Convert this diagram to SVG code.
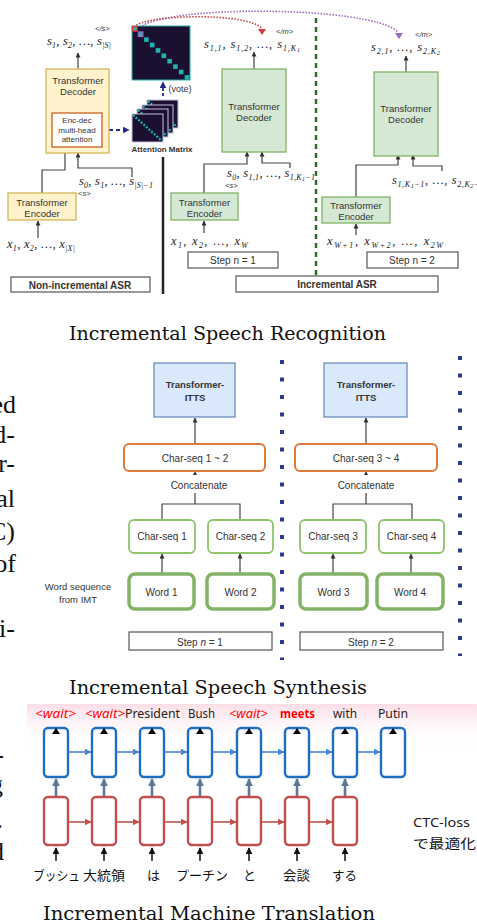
<svg xmlns="http://www.w3.org/2000/svg" width="477" height="924" viewBox="0 0 477 924">
<defs>
<style>
.t{font-family:"Liberation Sans",Arial,sans-serif;fill:#333;text-anchor:middle}
.b{font-weight:bold}
.m{font-family:"Liberation Serif","Times New Roman",serif;font-style:italic;font-size:12.5px;fill:#222}
.s{font-size:8px}
.ss{font-size:6px}
.tag{font-family:"Liberation Sans",Arial,sans-serif;font-style:italic;font-size:7.5px;fill:#333}
.cap{font-family:"DejaVu Serif","Liberation Serif",serif;font-size:18px;fill:#111}
.frag{font-family:"Liberation Serif","Times New Roman",serif;font-size:26px;fill:#111;text-anchor:end}
.yel{fill:#fff2cc;stroke:#d6b656;stroke-width:1.3}
.grn{fill:#d5e8d4;stroke:#82b366;stroke-width:1.3}
.lbl{fill:#fff;stroke:#555;stroke-width:1.2}
.ln{fill:none;stroke:#444;stroke-width:1.2}
.itts{fill:#dae8fc;stroke:#6c8ebf;stroke-width:1.3}
.cs{fill:#fff;stroke:#8cc56a;stroke-width:1.8}
.wd{fill:#fff;stroke:#82b366;stroke-width:3.5}
.or{fill:#fff;stroke:#e07a3a;stroke-width:2}
.dots{stroke:#2b3a8f;stroke-width:4;stroke-dasharray:4 13.5}
.mat{fill:#1c1030}
.tl{fill:#21b3b0}
.mt{font-family:"Noto Sans","Liberation Sans",sans-serif;font-size:12.5px;fill:#222}
.w{fill:#f00;font-style:italic}
.jp{font-family:"Noto Sans CJK JP",sans-serif;font-size:13px;fill:#111}
.bc{fill:#fff;stroke:#1f6fc0;stroke-width:2.4}
.rc{fill:#fff;stroke:#c0504d;stroke-width:2.4}
</style>
<marker id="ab" viewBox="0 0 10 10" refX="9" refY="5" markerWidth="5" markerHeight="5" orient="auto" markerUnits="userSpaceOnUse"><path d="M0,0 L10,5 L0,10 z" fill="#333"/></marker>
<marker id="an" viewBox="0 0 10 10" refX="9" refY="5" markerWidth="7" markerHeight="7" orient="auto" markerUnits="userSpaceOnUse"><path d="M0,0 L10,5 L0,10 z" fill="#2a2a8a"/></marker>
<marker id="abl" viewBox="0 0 10 10" refX="9" refY="5" markerWidth="7" markerHeight="7" orient="auto" markerUnits="userSpaceOnUse"><path d="M0,0 L10,5 L0,10 z" fill="#4a86c8"/></marker>
<marker id="ar" viewBox="0 0 10 10" refX="9" refY="5" markerWidth="7" markerHeight="7" orient="auto" markerUnits="userSpaceOnUse"><path d="M0,0 L10,5 L0,10 z" fill="#c0504d"/></marker>
<marker id="ag" viewBox="0 0 10 10" refX="9" refY="5" markerWidth="8" markerHeight="8" orient="auto" markerUnits="userSpaceOnUse"><path d="M0,0 L10,5 L0,10 z" fill="#5d7a94"/></marker>
<marker id="ak" viewBox="0 0 10 10" refX="9" refY="5" markerWidth="7" markerHeight="7" orient="auto" markerUnits="userSpaceOnUse"><path d="M0,0 L10,5 L0,10 z" fill="#111"/></marker>
<linearGradient id="pink" x1="0" y1="0" x2="0" y2="1"><stop offset="0" stop-color="#fcdde7"/><stop offset="1" stop-color="#fff" stop-opacity="0"/></linearGradient>
</defs>
<rect width="477" height="924" fill="#fff"/>

<!-- cut-off paragraph fragments -->
<g id="fragments">
<text class="frag" x="16" y="413">ed</text>
<text class="frag" x="15" y="443">d-</text>
<text class="frag" x="15" y="472">r-</text>
<text class="frag" x="15" y="507">al</text>
<text class="frag" x="15" y="540">C)</text>
<text class="frag" x="16" y="572">of</text>
<text class="frag" x="15" y="637">i-</text>
<text class="frag" x="4" y="763">-</text>
<text class="frag" x="3" y="793">g</text>
<text class="frag" x="3" y="828">.</text>
<text class="frag" x="4" y="860">d</text>
</g>

<!-- ===== ASR ===== -->
<g id="asr-connectors">
<line x1="316" y1="18" x2="316" y2="275" stroke="#2d6a2d" stroke-width="2.5" stroke-dasharray="5 4"/>
<line x1="163" y1="157" x2="163" y2="294" stroke="#222" stroke-width="2.5"/>
<path class="ln" d="M78,69 V53" marker-end="url(#ab)"/>
<path class="ln" d="M42,193 V170 H65 V147" marker-end="url(#ab)"/>
<path class="ln" d="M132,177 V168 H78 V153" marker-end="url(#ab)"/>
<path class="ln" d="M38,238 V221" marker-end="url(#ab)"/>
<path class="ln" d="M254,69 V52" marker-end="url(#ab)"/>
<path class="ln" d="M204,193 V164 H247 V152" marker-end="url(#ab)"/>
<path class="ln" d="M290,168 V163 H262 V152" marker-end="url(#ab)"/>
<path class="ln" d="M204,233 V221" marker-end="url(#ab)"/>
<path class="ln" d="M406,72 V56" marker-end="url(#ab)"/>
<path class="ln" d="M356,197 V165 H398 V155" marker-end="url(#ab)"/>
<path class="ln" d="M442,171 V166 H413 V155" marker-end="url(#ab)"/>
<path class="ln" d="M356,235 V224" marker-end="url(#ab)"/>
<path d="M102,130 H129" fill="none" stroke="#2a2a8a" stroke-width="1.8" stroke-dasharray="4 3" marker-end="url(#an)"/>
<path d="M163,96 V82" fill="none" stroke="#2a2a8a" stroke-width="1.8" stroke-dasharray="3 2" marker-end="url(#an)"/>
<path d="M140,28 C160,5 370,5 398,32" fill="none" stroke="#9b6bbf" stroke-width="1.6" stroke-dasharray="1.5 1.5"/>
<polygon points="395,33 403,33 399,39" fill="#9b6bbf"/>
<path d="M134,27 C145,14 250,12 262,29" fill="none" stroke="#d04040" stroke-width="1.6" stroke-dasharray="1.5 1.5"/>
<polygon points="258,29 266,29 262,35" fill="#d04040"/>
</g>

<g id="asr-decoder">
<rect class="yel" x="46" y="69" width="63" height="84"/>
<text class="t" x="78" y="84" font-size="9.5">Transformer</text>
<text class="t" x="78" y="95" font-size="9.5">Decoder</text>
<rect x="52" y="113" width="50" height="34" fill="#fff" stroke="#d0743c" stroke-width="1.5"/>
<text class="t" x="77" y="123" font-size="8">Enc-dec</text>
<text class="t" x="77" y="132.5" font-size="8">multi-head</text>
<text class="t" x="77" y="142" font-size="8">attention</text>
</g>
<g id="asr-encoder">
<rect class="yel" x="8" y="193" width="68" height="27"/>
<text class="t" x="42" y="205.5" font-size="9.5">Transformer</text>
<text class="t" x="42" y="216.5" font-size="9.5">Encoder</text>
</g>
<g id="asr-labels-left">
<text class="tag" x="95" y="31">&lt;/s&gt;</text>
<text class="m" x="47" y="45" textLength="64" lengthAdjust="spacing">s<tspan class="s" dy="2.5">1</tspan><tspan dy="-2.5">, s</tspan><tspan class="s" dy="2.5">2</tspan><tspan dy="-2.5">, …, s</tspan><tspan class="s" dy="2.5">|S|</tspan></text>
<text class="m" x="79" y="185" textLength="74" lengthAdjust="spacing">s<tspan class="s" dy="2.5">0</tspan><tspan dy="-2.5">, s</tspan><tspan class="s" dy="2.5">1</tspan><tspan dy="-2.5">, …, s</tspan><tspan class="s" dy="2.5">|S|−1</tspan></text>
<text class="tag" x="78" y="196" font-size="7">&lt;s&gt;</text>
<text class="m" x="7" y="248" textLength="68" lengthAdjust="spacing">x<tspan class="s" dy="2.5">1</tspan><tspan dy="-2.5">, x</tspan><tspan class="s" dy="2.5">2</tspan><tspan dy="-2.5">, …, x</tspan><tspan class="s" dy="2.5">|X|</tspan></text>
</g>
<g id="asr-nonincremental-label">
<rect class="lbl" x="11" y="277" width="139" height="15"/>
<text class="t b" x="80" y="288.5" font-size="10" fill="#222">Non-incremental ASR</text>
</g>
<g id="attention-stack">
<rect class="mat" x="147" y="100" width="31" height="28" stroke="#c8c0e0" stroke-width="1"/>
<line x1="148" y1="101" x2="177" y2="127" stroke="#21b3b0" stroke-width="2.2" stroke-dasharray="2 1.5"/>
<rect class="mat" x="142" y="105" width="31" height="28" stroke="#c8c0e0" stroke-width="1"/>
<line x1="143" y1="106" x2="172" y2="132" stroke="#21b3b0" stroke-width="2.2" stroke-dasharray="2 1.5"/>
<rect class="mat" x="137" y="109" width="31" height="28" stroke="#c8c0e0" stroke-width="1"/>
<line x1="138" y1="110" x2="167" y2="136" stroke="#21b3b0" stroke-width="2.2" stroke-dasharray="2 1.5"/>
<rect class="mat" x="132" y="114" width="31" height="28" stroke="#c8c0e0" stroke-width="1"/>
<line x1="133" y1="115" x2="162" y2="141" stroke="#21b3b0" stroke-width="2.2" stroke-dasharray="2 1.5"/>
<text class="t b" x="162" y="152" font-size="8" fill="#222">Attention Matrix</text>
</g>
<g id="attention-matrix">
<rect class="mat" x="132" y="26" width="58" height="54" stroke="#2ab0b0" stroke-width="1"/>
<rect x="132.5" y="26.5" width="4.6" height="4.6" fill="#21b3b0" stroke="#e03030" stroke-width="1.2"/>
<rect x="138.3" y="31.9" width="4.6" height="4.6" fill="#21b3b0" stroke="#9b6bbf" stroke-width="1.2"/>
<rect class="tl" x="144.1" y="37.3" width="4.6" height="4.6"/>
<rect class="tl" x="149.9" y="42.7" width="4.6" height="4.6"/>
<rect class="tl" x="155.7" y="48.1" width="4.6" height="4.6"/>
<rect class="tl" x="161.5" y="53.5" width="4.6" height="4.6"/>
<rect class="tl" x="167.3" y="58.9" width="4.6" height="4.6"/>
<rect class="tl" x="173.1" y="64.3" width="4.6" height="4.6"/>
<rect class="tl" x="178.9" y="69.7" width="4.6" height="4.6"/>
<rect class="tl" x="184.7" y="75.1" width="4.6" height="4.6"/>
<text class="t" x="180" y="92" font-size="9" fill="#222">(vote)</text>
</g>
<g id="asr-step1">
<rect class="grn" x="222" y="69" width="64" height="83"/>
<text class="t" x="254" y="110" font-size="9.5">Transformer</text>
<text class="t" x="254" y="121" font-size="9.5">Decoder</text>
<rect class="grn" x="171" y="193" width="67" height="27"/>
<text class="t" x="204.5" y="205.5" font-size="9.5">Transformer</text>
<text class="t" x="204.5" y="216.5" font-size="9.5">Encoder</text>
<text class="tag" x="276" y="34">&lt;/m&gt;</text>
<text class="m" x="204" y="48" textLength="96" lengthAdjust="spacing">s<tspan class="s" dy="2.5">1,1</tspan><tspan dy="-2.5">, s</tspan><tspan class="s" dy="2.5">1,2</tspan><tspan dy="-2.5">, …, s</tspan><tspan class="s" dy="2.5">1,K</tspan><tspan class="ss" dy="1.5">1</tspan></text>
<text class="m" x="227" y="177" textLength="88" lengthAdjust="spacing">s<tspan class="s" dy="2.5">0</tspan><tspan dy="-2.5">, s</tspan><tspan class="s" dy="2.5">1,1</tspan><tspan dy="-2.5">, …, s</tspan><tspan class="s" dy="2.5">1,K</tspan><tspan class="ss" dy="1.5">1</tspan><tspan class="s" dy="-1.5">−1</tspan></text>
<text class="tag" x="225" y="188" font-size="7">&lt;s&gt;</text>
<text class="m" x="171" y="245" textLength="77" lengthAdjust="spacing">x<tspan class="s" dy="2.5">1</tspan><tspan dy="-2.5">, x</tspan><tspan class="s" dy="2.5">2</tspan><tspan dy="-2.5">, …, x</tspan><tspan class="s" dy="2.5">W</tspan></text>
<rect class="lbl" x="188" y="252" width="90" height="16"/>
<text class="t" x="233" y="264" font-size="10">Step n = 1</text>
</g>
<g id="asr-step2">
<rect class="grn" x="374" y="72" width="64" height="84"/>
<text class="t" x="406" y="112" font-size="9.5">Transformer</text>
<text class="t" x="406" y="123" font-size="9.5">Decoder</text>
<rect class="grn" x="322" y="197" width="68" height="26"/>
<text class="t" x="356" y="209" font-size="9.5">Transformer</text>
<text class="t" x="356" y="220" font-size="9.5">Encoder</text>
<text class="tag" x="415" y="37">&lt;/m&gt;</text>
<text class="m" x="371" y="51" textLength="69" lengthAdjust="spacing">s<tspan class="s" dy="2.5">2,1</tspan><tspan dy="-2.5">, …, s</tspan><tspan class="s" dy="2.5">2,K</tspan><tspan class="ss" dy="1.5">2</tspan></text>
<text class="m" x="392" y="184" textLength="92" lengthAdjust="spacing">s<tspan class="s" dy="2.5">1,K</tspan><tspan class="ss" dy="1.5">1</tspan><tspan class="s" dy="-1.5">−1</tspan><tspan dy="-2.5">, …, s</tspan><tspan class="s" dy="2.5">2,K</tspan><tspan class="ss" dy="1.5">2</tspan><tspan class="s" dy="-1.5">−1</tspan></text>
<text class="m" x="327" y="245" textLength="116" lengthAdjust="spacing">x<tspan class="s" dy="2.5">W+1</tspan><tspan dy="-2.5">, x</tspan><tspan class="s" dy="2.5">W+2</tspan><tspan dy="-2.5">, …, x</tspan><tspan class="s" dy="2.5">2W</tspan></text>
<rect class="lbl" x="367" y="252" width="91" height="16"/>
<text class="t" x="412" y="264" font-size="10">Step n = 2</text>
</g>
<g id="asr-incremental-label">
<rect class="lbl" x="236" y="276" width="202" height="16"/>
<text class="t b" x="337" y="288" font-size="10" fill="#222">Incremental ASR</text>
</g>
<text class="cap" x="69" y="340" textLength="317" lengthAdjust="spacingAndGlyphs">Incremental Speech Recognition</text>

<!-- ===== TTS ===== -->
<g id="tts-connectors">
<line class="dots" x1="282" y1="360" x2="282" y2="660"/>
<line class="dots" x1="460" y1="356" x2="460" y2="656"/>
<path class="ln" d="M195,444 V418" marker-end="url(#ab)"/>
<path class="ln" d="M366,444 V418" marker-end="url(#ab)"/>
<polygon points="193,475 197,475 195,471" fill="#333"/>
<polygon points="364,475 368,475 366,471" fill="#333"/>
<path class="ln" d="M195,493 V504 M162,520 V504 H240 V520"/>
<path class="ln" d="M366,493 V504 M333,520 V504 H412 V520"/>
<path class="ln" d="M162,573 V554" marker-end="url(#ab)"/>
<path class="ln" d="M240,573 V554" marker-end="url(#ab)"/>
<path class="ln" d="M333,573 V554" marker-end="url(#ab)"/>
<path class="ln" d="M411,573 V554" marker-end="url(#ab)"/>
</g>
<g id="tts-itts1">
<rect class="itts" x="154" y="363" width="81" height="54"/>
<text class="t b" x="195" y="388" font-size="9.5">Transformer-</text>
<text class="t b" x="195" y="400.5" font-size="9.5">ITTS</text>
</g>
<g id="tts-itts2">
<rect class="itts" x="324" y="363" width="83" height="54"/>
<text class="t b" x="366" y="388" font-size="9.5">Transformer-</text>
<text class="t b" x="366" y="400.5" font-size="9.5">ITTS</text>
</g>
<g id="tts-concat1">
<rect class="or" x="124" y="444" width="141" height="27" rx="5"/>
<text class="t" x="195" y="462" font-size="10">Char-seq 1 ~ 2</text>
<text class="t" x="199" y="489" font-size="10">Concatenate</text>
</g>
<g id="tts-concat2">
<rect class="or" x="295" y="444" width="142" height="27" rx="5"/>
<text class="t" x="366" y="462" font-size="10">Char-seq 3 ~ 4</text>
<text class="t" x="366" y="489" font-size="10">Concatenate</text>
</g>
<g id="tts-cs1"><rect class="cs" x="129" y="520" width="66" height="33" rx="5"/><text class="t" x="162" y="540" font-size="10">Char-seq 1</text></g>
<g id="tts-cs2"><rect class="cs" x="208" y="520" width="65" height="33" rx="5"/><text class="t" x="240.5" y="540" font-size="10">Char-seq 2</text></g>
<g id="tts-cs3"><rect class="cs" x="300" y="520" width="66" height="33" rx="5"/><text class="t" x="333" y="540" font-size="10">Char-seq 3</text></g>
<g id="tts-cs4"><rect class="cs" x="379" y="520" width="65" height="33" rx="5"/><text class="t" x="411.5" y="540" font-size="10">Char-seq 4</text></g>
<g id="tts-w1"><rect class="wd" x="129" y="574" width="65" height="35" rx="6"/><text class="t" x="161.5" y="595.5" font-size="10">Word 1</text></g>
<g id="tts-w2"><rect class="wd" x="207" y="574" width="67" height="35" rx="6"/><text class="t" x="240.5" y="595.5" font-size="10">Word 2</text></g>
<g id="tts-w3"><rect class="wd" x="300" y="574" width="67" height="35" rx="6"/><text class="t" x="333.5" y="595.5" font-size="10">Word 3</text></g>
<g id="tts-w4"><rect class="wd" x="377" y="574" width="66" height="35" rx="6"/><text class="t" x="410" y="595.5" font-size="10">Word 4</text></g>
<g id="tts-source">
<text class="t" x="78" y="590" font-size="9.5">Word sequence</text>
<text class="t" x="78" y="603" font-size="9.5">from IMT</text>
</g>
<g id="tts-step1"><rect class="lbl" x="129" y="632" width="143" height="18"/><text class="t" x="200" y="645.5" font-size="10">Step <tspan font-style="italic">n</tspan> = 1</text></g>
<g id="tts-step2"><rect class="lbl" x="300" y="632" width="143" height="18"/><text class="t" x="371" y="645.5" font-size="10">Step <tspan font-style="italic">n</tspan> = 2</text></g>
<text class="cap" x="69" y="694" textLength="298" lengthAdjust="spacingAndGlyphs">Incremental Speech Synthesis</text>

<!-- ===== MT ===== -->
<rect x="27" y="704" width="450" height="42" fill="url(#pink)"/>
<g id="mt-connectors">
<g fill="none" stroke="#4a86c8" stroke-width="1.6">
<path d="M69,752 H91" marker-end="url(#abl)"/><path d="M117,752 H139" marker-end="url(#abl)"/><path d="M165,752 H187" marker-end="url(#abl)"/><path d="M213,752 H236" marker-end="url(#abl)"/><path d="M262,752 H284" marker-end="url(#abl)"/><path d="M310,752 H332" marker-end="url(#abl)"/><path d="M358,752 H380" marker-end="url(#abl)"/>
</g>
<g fill="none" stroke="#c0504d" stroke-width="1.6">
<path d="M69,822 H91" marker-end="url(#ar)"/><path d="M117,822 H139" marker-end="url(#ar)"/><path d="M165,822 H187" marker-end="url(#ar)"/><path d="M213,822 H236" marker-end="url(#ar)"/><path d="M262,822 H284" marker-end="url(#ar)"/><path d="M310,822 H332" marker-end="url(#ar)"/>
</g>
<g fill="none" stroke="#5d7a94" stroke-width="2.6">
<path d="M56,796 V779" marker-end="url(#ag)"/><path d="M104,796 V779" marker-end="url(#ag)"/><path d="M152,796 V779" marker-end="url(#ag)"/><path d="M200,796 V779" marker-end="url(#ag)"/><path d="M249,796 V779" marker-end="url(#ag)"/><path d="M297,796 V779" marker-end="url(#ag)"/><path d="M345,796 V779" marker-end="url(#ag)"/>
</g>
<g fill="none" stroke="#111" stroke-width="1.5">
<path d="M56,861 V848" marker-end="url(#ak)"/><path d="M104,861 V848" marker-end="url(#ak)"/><path d="M152,861 V848" marker-end="url(#ak)"/><path d="M200,861 V848" marker-end="url(#ak)"/><path d="M249,861 V848" marker-end="url(#ak)"/><path d="M297,861 V848" marker-end="url(#ak)"/><path d="M345,861 V848" marker-end="url(#ak)"/>
</g>
</g>
<g id="mt-decoder">
<rect class="bc" x="44" y="728" width="24" height="49" rx="4"/>
<rect class="bc" x="92" y="728" width="24" height="49" rx="4"/>
<rect class="bc" x="140" y="728" width="24" height="49" rx="4"/>
<rect class="bc" x="188" y="728" width="24" height="49" rx="4"/>
<rect class="bc" x="237" y="728" width="24" height="49" rx="4"/>
<rect class="bc" x="285" y="728" width="24" height="49" rx="4"/>
<rect class="bc" x="333" y="728" width="24" height="49" rx="4"/>
<rect class="bc" x="381" y="728" width="24" height="49" rx="4"/>
<g fill="#000">
<polygon points="52,734 56,728 60,734"/><polygon points="100,734 104,728 108,734"/><polygon points="148,734 152,728 156,734"/><polygon points="196,734 200,728 204,734"/><polygon points="245,734 249,728 253,734"/><polygon points="293,734 297,728 301,734"/><polygon points="341,734 345,728 349,734"/><polygon points="389,734 393,728 397,734"/>
</g>
</g>
<g id="mt-encoder">
<rect class="rc" x="44" y="797" width="24" height="48" rx="4"/>
<rect class="rc" x="92" y="797" width="24" height="48" rx="4"/>
<rect class="rc" x="140" y="797" width="24" height="48" rx="4"/>
<rect class="rc" x="188" y="797" width="24" height="48" rx="4"/>
<rect class="rc" x="237" y="797" width="24" height="48" rx="4"/>
<rect class="rc" x="285" y="797" width="24" height="48" rx="4"/>
<rect class="rc" x="333" y="797" width="24" height="48" rx="4"/>
</g>
<g id="mt-outputs" class="mt">
<text class="w" x="35" y="718" textLength="41" lengthAdjust="spacingAndGlyphs">&lt;wait&gt;</text>
<text class="w" x="85" y="718" textLength="40" lengthAdjust="spacingAndGlyphs">&lt;wait&gt;</text>
<text x="125" y="718" textLength="55" lengthAdjust="spacingAndGlyphs">President</text>
<text x="188" y="718" textLength="27" lengthAdjust="spacingAndGlyphs">Bush</text>
<text class="w" x="229" y="718" textLength="39" lengthAdjust="spacingAndGlyphs">&lt;wait&gt;</text>
<text x="280" y="718" fill="#f00" font-weight="bold" textLength="35" lengthAdjust="spacingAndGlyphs">meets</text>
<text x="333" y="718" textLength="24" lengthAdjust="spacingAndGlyphs">with</text>
<text x="378" y="718" textLength="30" lengthAdjust="spacingAndGlyphs">Putin</text>
</g>
<g id="mt-inputs" class="jp">
<text x="33" y="880" textLength="47" lengthAdjust="spacingAndGlyphs">ブッシュ</text>
<text x="83" y="880" textLength="42" lengthAdjust="spacingAndGlyphs">大統領</text>
<text x="147" y="880">は</text>
<text x="176" y="880" textLength="52" lengthAdjust="spacingAndGlyphs">プーチン</text>
<text x="243" y="880">と</text>
<text x="283" y="880" textLength="27" lengthAdjust="spacingAndGlyphs">会談</text>
<text x="332" y="880" textLength="25" lengthAdjust="spacingAndGlyphs">する</text>
</g>
<g id="mt-loss">
<text class="mt" x="413" y="827" font-size="12.5" textLength="57" lengthAdjust="spacingAndGlyphs">CTC-loss</text>
<text class="jp" x="413" y="848" font-size="14" textLength="63" lengthAdjust="spacingAndGlyphs">で最適化</text>
</g>
<text class="cap" x="43" y="920" textLength="332" lengthAdjust="spacingAndGlyphs">Incremental Machine Translation</text>
</svg>
